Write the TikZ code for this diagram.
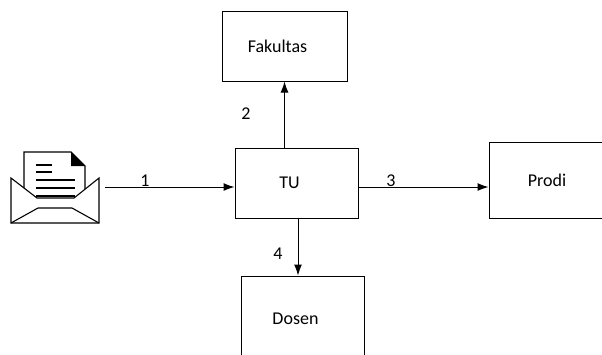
\documentclass[tikz,border=0pt]{standalone}
\usepackage{fontspec}
\setmainfont{Carlito}
\usetikzlibrary{positioning,arrows.meta}
\begin{document}
\begin{tikzpicture}[x=1pt,y=-1pt,
	box/.style = {draw, rectangle, line width=1pt, minimum width=123pt, minimum height=70pt, inner sep=0pt, execute at begin node={\hspace*{-14pt}}},
	num/.style = {inner sep=0pt},
	flow/.style = {-{Latex[length=11pt,width=8pt]}, line width=1pt},
	font=\fontsize{18}{21}\selectfont]
	\useasboundingbox (0,0) rectangle (602,354);
	\clip (0,0) rectangle (602,354);
	% boxes
	\node[box] (tu) at (296.5,183) {TU};
	\node[box, minimum width=125pt] (fak) [above=66pt of tu, xshift=-12pt] {Fakultas};
	\node[box, minimum width=130pt, minimum height=76pt] (prodi) [right=130pt of tu, yshift=3pt] {Prodi};
	\node[box, minimum height=86pt] (dosen) [below=57pt of tu, xshift=6pt] {Dosen};
	% envelope
	\filldraw[fill=white, line width=1.1pt] (24,152) -- (71,152) -- (85,166) -- (85,205) -- (24,205) -- cycle;
	\fill (71,152) -- (71,166) -- (85,166) -- cycle;
	\foreach \y/\e in {165/52,172/52,180/75,188/75,196/75}
		\draw[line width=2.5pt] (36,\y) -- (\e,\y);
	\filldraw[fill=white, line width=1.1pt] (11,178) -- (37,198) -- (74,198) -- (99,178) -- (99,223) -- (11,223) -- cycle;
	\draw[line width=1.1pt] (11,223) -- (38,208) -- (72,208) -- (99,223);
	\coordinate (mail) at (105,187);
	% flows
	\draw[flow] (mail) -- (mail -| tu.west);
	\draw[flow] (tu.north -| fak.south) -- (fak.south);
	\draw[flow] ([yshift=-4pt]tu.east) -- ([yshift=-4pt]tu.east -| prodi.west);
	\draw[flow] ([xshift=1.5pt]tu.south) -- ([xshift=1.5pt]tu.south |- dosen.north);
	% numbers
	\node[num] (n1) at (145,181) {1};
	\node[num] (n2) at (246,114) {2};
	\node[num] (n3) at (391,181) {3};
	\node[num] (n4) at (278,254) {4};
\end{tikzpicture}
\end{document}
